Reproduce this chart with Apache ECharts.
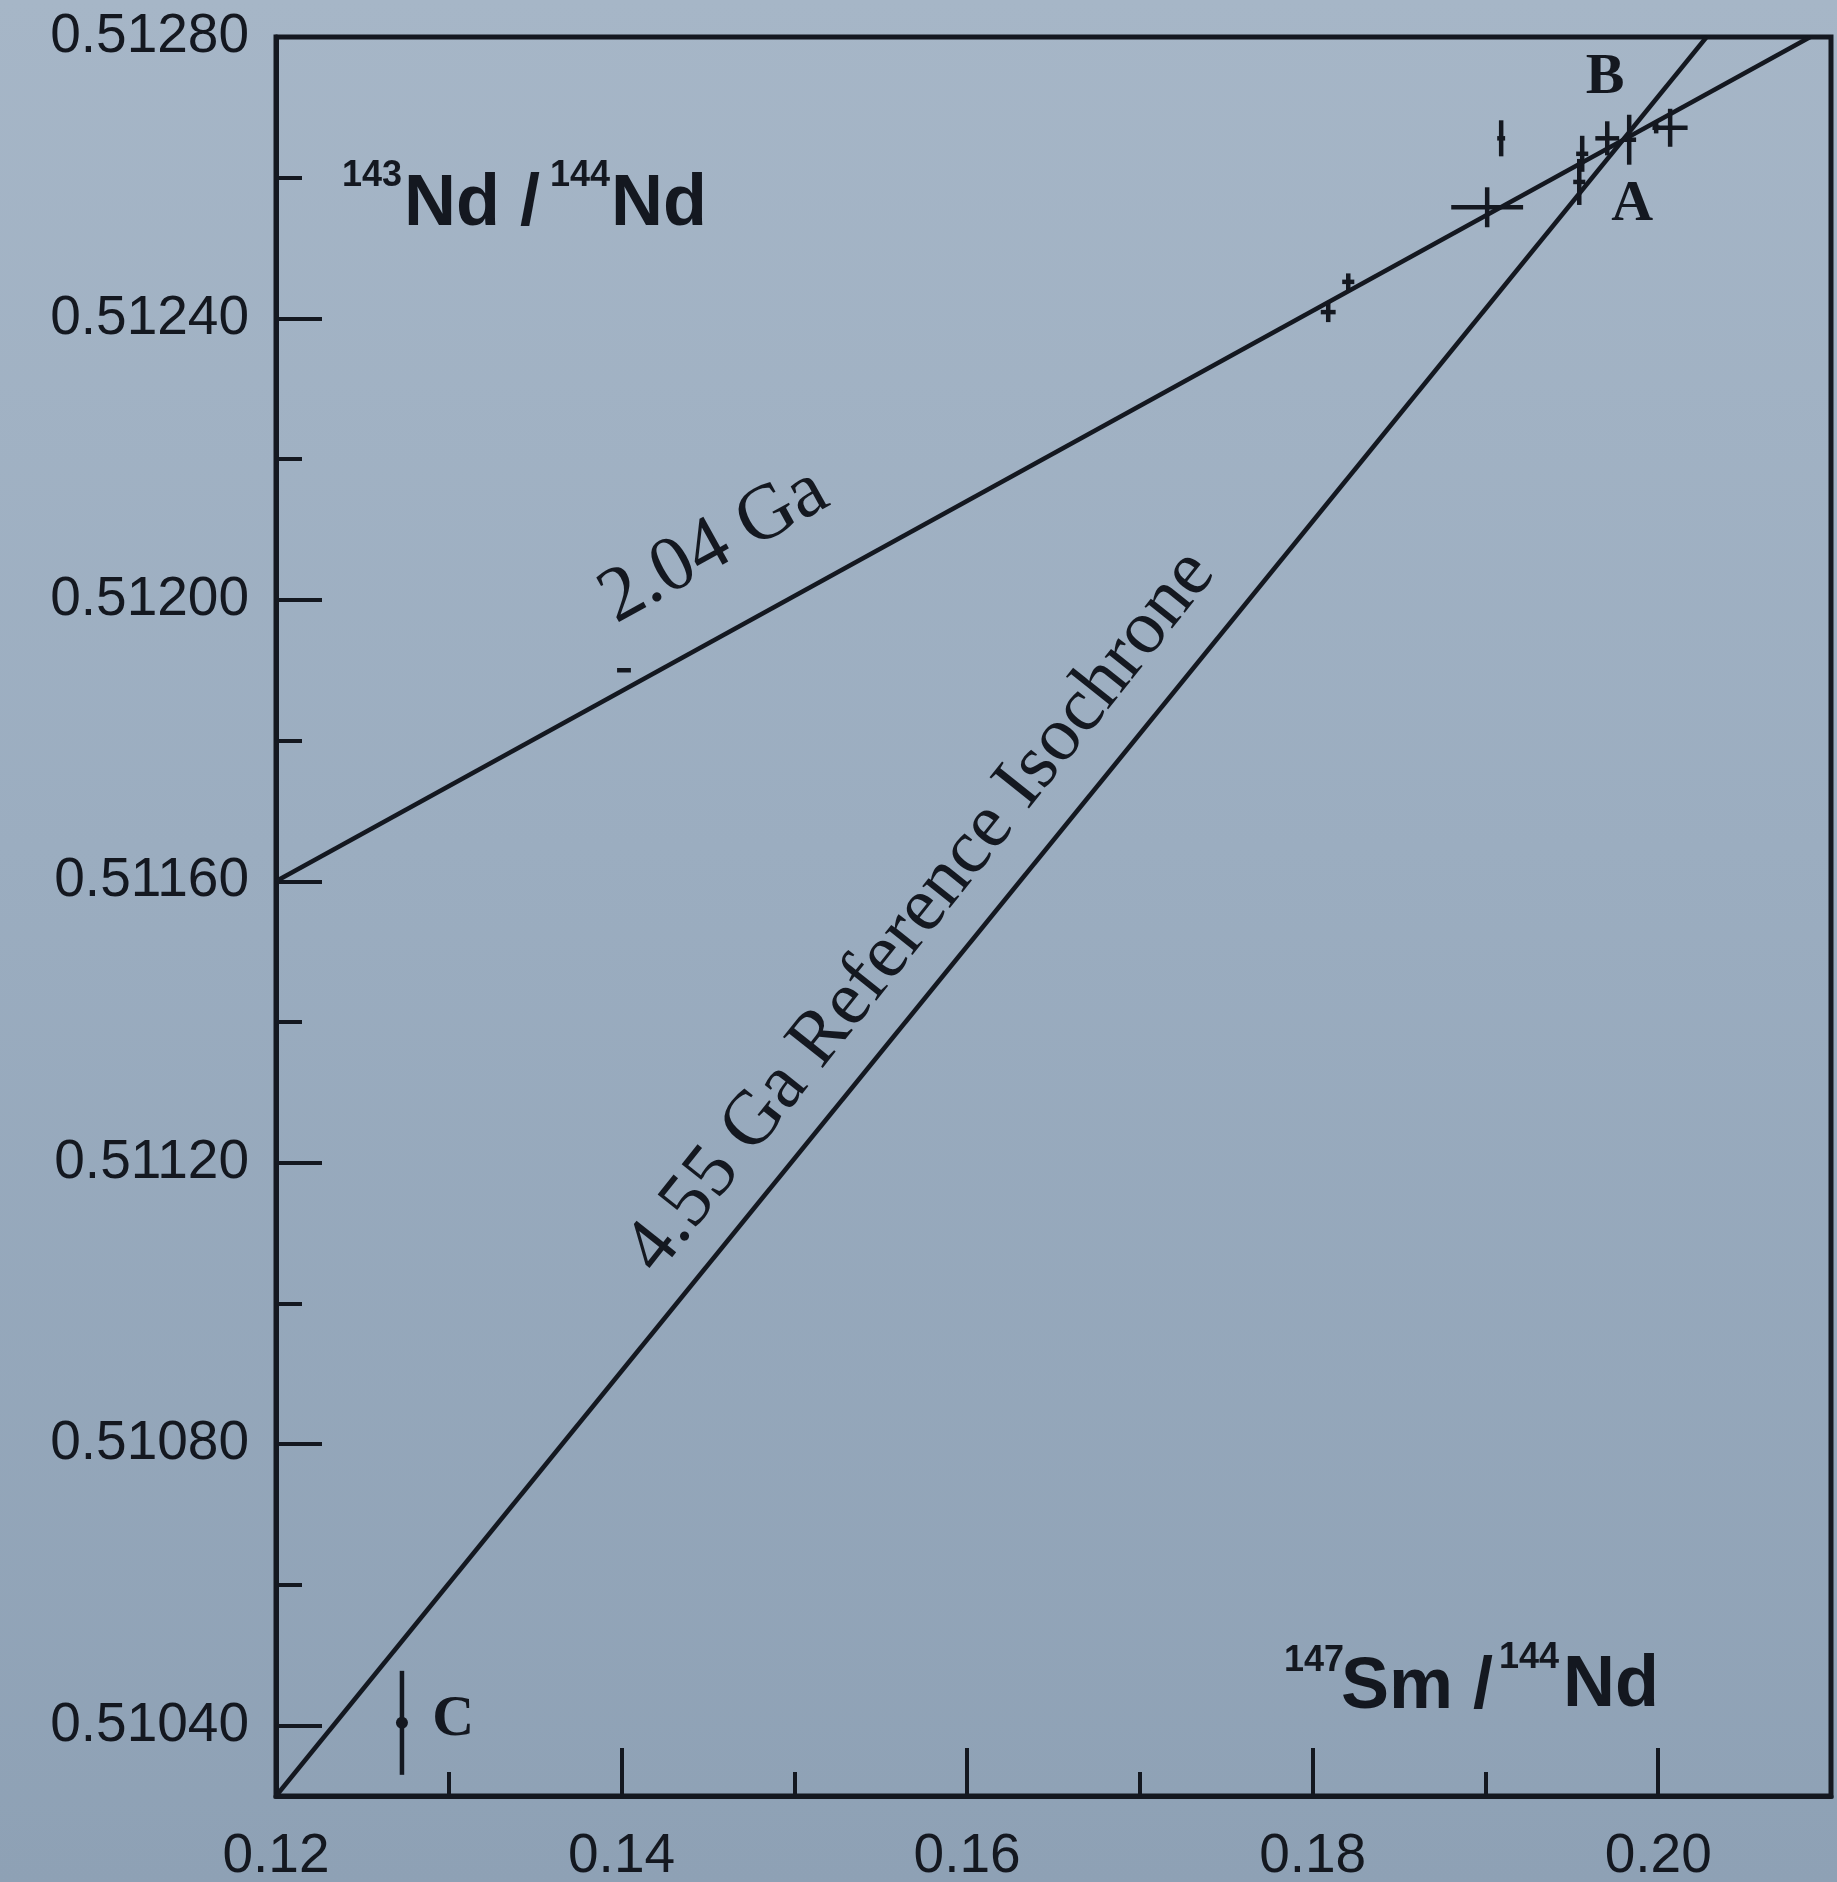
<!DOCTYPE html>
<html>
<head>
<meta charset="utf-8">
<script src="https://cdn.jsdelivr.net/npm/echarts@6/dist/echarts.min.js"></script>
<style>
  html, body { margin: 0; padding: 0; }
  body { width: 1837px; height: 1882px; background: linear-gradient(180deg, #a6b6c7 0%, #9badc0 45%, #8ea1b5 100%); }
  #chart { width: 1837px; height: 1882px; }
</style>
</head>
<body>
<div id="chart"></div>
<script>
// ---- axis ticks ----
const xTicksMajor = [0.12, 0.14, 0.16, 0.18, 0.20];
const xTicksMinor = [0.13, 0.15, 0.17, 0.19];
const yTicksMajor = [0.5104, 0.5108, 0.5112, 0.5116, 0.5120, 0.5124, 0.5128];
const yTicksMinor = [0.5106, 0.5110, 0.5114, 0.5118, 0.5122, 0.5126];

// ---- chondrite analyses (147Sm/144Nd, 143Nd/144Nd, half error bars) ----
const sampleX    = [0.19091, 0.19010, 0.19560, 0.19543, 0.19705, 0.19832, 0.19988, 0.20069, 0.18206, 0.18090, 0.14014, 0.12729];
const sampleY    = [0.512656, 0.512558, 0.512634, 0.512594, 0.512656, 0.512654, 0.512671, 0.512671, 0.512452, 0.512409, 0.511900, 0.510404];
const sampleXErr = [0.00023, 0.00208, 0.00035, 0.00035, 0.00069, 0.00040, 0.00020, 0.00101, 0.00035, 0.00043, 0.00040, 0];
const sampleYErr = [0.0000256, 0.0000284, 0.0000256, 0.0000327, 0.0000242, 0.0000355, 0.0000080, 0.0000270, 0.0000120, 0.0000142, 0, 0.0000739];

// ---- chondrite C centre dot ----
const dotX = [0.12729];
const dotY = [0.510404];

// ---- isochrones ----
const iso455X = [0.12, 0.2028];
const iso455Y = [0.5103, 0.5128];
const iso204X = [0.12, 0.2088];
const iso204Y = [0.5116, 0.5128];

// ---- point letters ----
const letterNames = ['A', 'B', 'C'];
const letterX = [0.19850, 0.19693, 0.13025];
const letterY = [0.512561, 0.512742, 0.510408];

const ink = '#141820';
const sans = '"Liberation Sans", Arial, Helvetica, sans-serif';
const serif = '"Liberation Serif", "Times New Roman", serif';

const chart = echarts.init(document.getElementById('chart'), null, { renderer: 'canvas' });

const errData = sampleX.map((x, i) => [x, sampleY[i], sampleXErr[i], sampleYErr[i]]);

const option = {
  animation: false,
  backgroundColor: 'transparent',
  grid: {
    left: 276, right: 6, top: 37, bottom: 86,
    show: true, borderColor: ink, borderWidth: 5, backgroundColor: 'transparent',
    outerBoundsMode: 'none'
  },
  xAxis: [
    {
      type: 'value', position: 'bottom', min: 0.12, max: 0.21,
      axisLine: { show: true, lineStyle: { color: ink, width: 5 } },
      axisTick: { show: true, inside: true, length: 48, customValues: xTicksMajor, lineStyle: { color: ink, width: 4 } },
      axisLabel: { show: true, customValues: xTicksMajor, margin: 33, color: ink, fontSize: 55, fontFamily: sans,
        formatter: v => v.toFixed(2) },
      splitLine: { show: false }
    },
    {
      type: 'value', position: 'bottom', min: 0.12, max: 0.21,
      axisLine: { show: false },
      axisTick: { show: true, inside: true, length: 24, customValues: xTicksMinor, lineStyle: { color: ink, width: 4 } },
      axisLabel: { show: false },
      splitLine: { show: false }
    }
  ],
  yAxis: [
    {
      type: 'value', position: 'left', min: 0.5103, max: 0.5128,
      axisLine: { show: true, lineStyle: { color: ink, width: 5 } },
      axisTick: { show: true, inside: true, length: 46, customValues: yTicksMajor, lineStyle: { color: ink, width: 4 } },
      axisLabel: { show: true, customValues: yTicksMajor, margin: 27, color: ink, fontSize: 55, fontFamily: sans,
        formatter: v => v.toFixed(5) },
      splitLine: { show: false }
    },
    {
      type: 'value', position: 'left', min: 0.5103, max: 0.5128,
      axisLine: { show: false },
      axisTick: { show: true, inside: true, length: 26, customValues: yTicksMinor, lineStyle: { color: ink, width: 4 } },
      axisLabel: { show: false },
      splitLine: { show: false }
    }
  ],
  series: [
    {
      name: '4.55 Ga', type: 'line', xAxisIndex: 0, yAxisIndex: 0,
      data: iso455X.map((x, i) => [x, iso455Y[i]]),
      showSymbol: false, symbol: 'none',
      lineStyle: { color: ink, width: 4.5 }
    },
    {
      name: '2.04 Ga', type: 'line', xAxisIndex: 0, yAxisIndex: 0,
      data: iso204X.map((x, i) => [x, iso204Y[i]]),
      showSymbol: false, symbol: 'none',
      lineStyle: { color: ink, width: 4.5 }
    },
    {
      name: 'samples', type: 'custom', xAxisIndex: 0, yAxisIndex: 0,
      data: errData,
      encode: { x: 0, y: 1 },
      renderItem: function (params, api) {
        const x = api.value(0), y = api.value(1), ex = api.value(2), ey = api.value(3);
        const children = [];
        if (ex > 0) {
          const l = api.coord([x - ex, y]), r = api.coord([x + ex, y]);
          children.push({ type: 'line', shape: { x1: l[0], y1: l[1], x2: r[0], y2: r[1] },
            style: { stroke: ink, lineWidth: 4.5, lineCap: 'butt' } });
        }
        if (ey > 0) {
          const t = api.coord([x, y + ey]), b = api.coord([x, y - ey]);
          children.push({ type: 'line', shape: { x1: t[0], y1: t[1], x2: b[0], y2: b[1] },
            style: { stroke: ink, lineWidth: 4.5, lineCap: 'butt' } });
        }
        return { type: 'group', children: children };
      }
    },
    {
      name: 'C dot', type: 'scatter', xAxisIndex: 0, yAxisIndex: 0,
      data: dotX.map((x, i) => [x, dotY[i]]),
      symbol: 'circle', symbolSize: 12,
      itemStyle: { color: ink, opacity: 1 }
    },
    {
      name: 'letters', type: 'scatter', xAxisIndex: 0, yAxisIndex: 0,
      data: letterX.map((x, i) => ({ name: letterNames[i], value: [x, letterY[i]] })),
      symbolSize: 1, itemStyle: { color: 'rgba(0,0,0,0)', opacity: 1 },
      label: { show: true, position: 'inside', formatter: p => p.name, opacity: 1,
        color: ink, fontFamily: serif, fontWeight: 'bold', fontSize: 58 }
    }
  ],
  graphic: [
    // y-axis title 143Nd/144Nd
    { type: 'text', x: 342, y: 176, style: { text: '143', font: 'bold 36px ' + sans, fill: ink, align: 'left', verticalAlign: 'middle', textAlign: 'left', textVerticalAlign: 'middle' } },
    { type: 'text', x: 404, y: 205, style: { text: 'Nd /', font: 'bold 72px ' + sans, fill: ink, align: 'left', verticalAlign: 'middle', textAlign: 'left', textVerticalAlign: 'middle' } },
    { type: 'text', x: 550, y: 176, style: { text: '144', font: 'bold 36px ' + sans, fill: ink, align: 'left', verticalAlign: 'middle', textAlign: 'left', textVerticalAlign: 'middle' } },
    { type: 'text', x: 611, y: 205, style: { text: 'Nd', font: 'bold 72px ' + sans, fill: ink, align: 'left', verticalAlign: 'middle', textAlign: 'left', textVerticalAlign: 'middle' } },
    // x-axis title 147Sm/144Nd
    { type: 'text', x: 1284, y: 1661, style: { text: '147', font: 'bold 36px ' + sans, fill: ink, align: 'left', verticalAlign: 'middle', textAlign: 'left', textVerticalAlign: 'middle' } },
    { type: 'text', x: 1341, y: 1688, style: { text: 'Sm /', font: 'bold 72px ' + sans, fill: ink, align: 'left', verticalAlign: 'middle', textAlign: 'left', textVerticalAlign: 'middle' } },
    { type: 'text', x: 1499, y: 1658, style: { text: '144', font: 'bold 36px ' + sans, fill: ink, align: 'left', verticalAlign: 'middle', textAlign: 'left', textVerticalAlign: 'middle' } },
    { type: 'text', x: 1563, y: 1686, style: { text: 'Nd', font: 'bold 72px ' + sans, fill: ink, align: 'left', verticalAlign: 'middle', textAlign: 'left', textVerticalAlign: 'middle' } },
    // isochrone annotations
    { type: 'text', x: 714, y: 546, rotation: 29 * Math.PI / 180,
      style: { text: '2.04 Ga', font: '78px ' + serif, fill: ink, align: 'center', verticalAlign: 'middle', textAlign: 'center', textVerticalAlign: 'middle' } },
    { type: 'text', x: 921, y: 912, rotation: 51.5 * Math.PI / 180,
      style: { text: '4.55 Ga Reference Isochrone', font: '77px ' + serif, fill: ink, align: 'center', verticalAlign: 'middle', textAlign: 'center', textVerticalAlign: 'middle' } }
  ]
};

chart.setOption(option);
</script>
</body>
</html>
